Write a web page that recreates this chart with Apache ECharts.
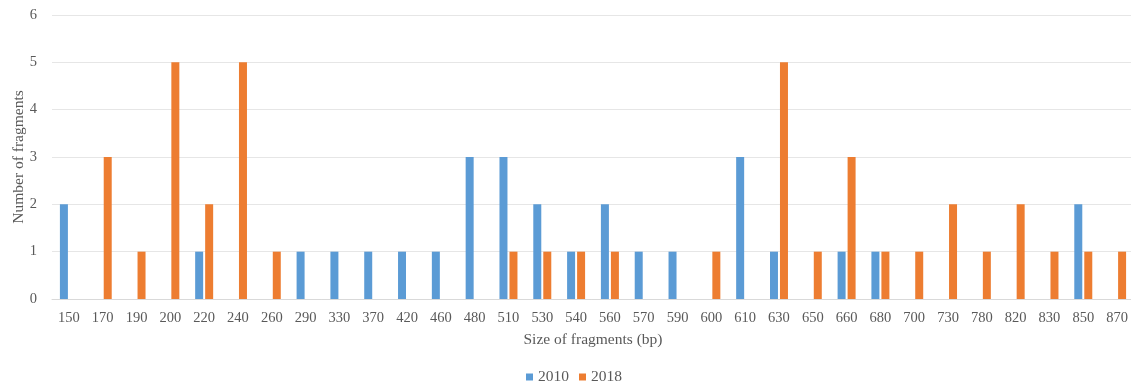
<!DOCTYPE html>
<html><head><meta charset="utf-8">
<script src="https://cdn.jsdelivr.net/npm/echarts@6/dist/echarts.min.js"></script>
<style>html,body{margin:0;padding:0;background:#fff}#c{width:1131px;height:384px}</style>
</head><body><div id="c"></div>
<script>
const categories = ['150','170','190','200','220','240','260','290','330','370','420','460','480','510','530','540','560','570','590','600','610','630','650','660','680','700','730','780','820','830','850','870'];
const values2010 = [2,0,0,0,1,0,0,1,1,1,1,1,3,3,2,1,2,1,1,0,3,1,0,1,1,0,0,0,0,0,2,0];
const values2018 = [0,3,1,5,2,5,1,0,0,0,0,0,0,1,1,1,1,0,0,1,0,5,1,3,1,1,2,1,2,1,1,1];
const yTicks = [0,1,2,3,4,5,6];

const font = 'Liberation Serif, Times New Roman, serif';
const chart = echarts.init(document.getElementById('c'));
chart.setOption({
  animation: false,
  textStyle: {fontFamily: font},
  grid: {left: 52, right: -3, top: 15, bottom: 85, containLabel: false, outerBoundsMode: 'none'},
  legend: {
    top: 364, left: 521, itemWidth: 7, itemHeight: 7, itemGap: 10,
    textStyle: {fontFamily: font, fontSize: 15.5, color: '#595959'},
    icon: 'rect', data: ['2010','2018']
  },
  xAxis: {
    type: 'category', data: categories,
    name: 'Size of fragments (bp)', nameLocation: 'middle', nameGap: 33, nameMoveOverlap: false,
    nameTextStyle: {fontFamily: font, fontSize: 15.5, color: '#595959'},
    axisLine: {lineStyle: {color: '#d9d9d9'}},
    axisTick: {show: false},
    axisLabel: {fontFamily: font, fontSize: 14.5, color: '#595959', margin: 12, interval: 0}
  },
  yAxis: {
    type: 'value', min: yTicks[0], max: yTicks[yTicks.length-1], interval: 1,
    name: 'Number of fragments', nameLocation: 'middle', nameGap: 25, nameMoveOverlap: false,
    nameTextStyle: {fontFamily: font, fontSize: 15.5, color: '#595959'},
    axisLine: {show: false}, axisTick: {show: false},
    axisLabel: {fontFamily: font, fontSize: 14.5, color: '#595959', margin: 15},
    splitLine: {lineStyle: {color: '#e6e6e6'}}
  },
  series: [
    {name: '2010', type: 'bar', data: values2010, barWidth: 8, barGap: '25%', itemStyle: {color: '#5B9BD5'}},
    {name: '2018', type: 'bar', data: values2018, barWidth: 8, itemStyle: {color: '#ED7D31'}}
  ]
});
</script></body></html>
